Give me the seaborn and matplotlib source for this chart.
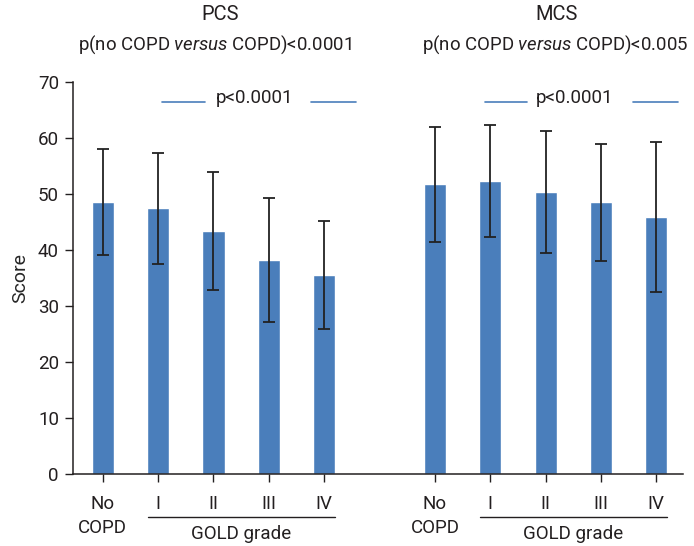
import pandas as pd
import seaborn as sns
import matplotlib.pyplot as plt
import matplotlib.transforms as mtransforms

sns.set_style("ticks")
plt.rcParams['font.family'] = ['Roboto', 'DejaVu Sans']
plt.rcParams['mathtext.fontset'] = 'custom'
plt.rcParams['mathtext.it'] = 'Roboto:italic'
plt.rcParams['mathtext.rm'] = 'Roboto'
plt.rcParams['text.color'] = '#231f20'
plt.rcParams['xtick.color'] = '#231f20'
plt.rcParams['ytick.color'] = '#231f20'

# Data
groups = ["No\nCOPD", "I", "II", "III", "IV"]
pcs_mean = [48.6, 47.4, 43.4, 38.2, 35.5]
pcs_sd = [9.5, 9.9, 10.6, 11.0, 9.7]
mcs_mean = [51.7, 52.3, 50.4, 48.5, 45.9]
mcs_sd = [10.2, 9.95, 10.9, 10.5, 13.4]
pcs_pos = [0, 1, 2, 3, 4]
mcs_pos = [6, 7, 8, 9, 10]

df = pd.DataFrame({
    "pos": pcs_pos + mcs_pos,
    "score": pcs_mean + mcs_mean,
    "sd": pcs_sd + mcs_sd,
})

bar_col = "#4a7ebb"
fs = 13.5

fig = plt.figure(figsize=(6.94, 5.46), dpi=100)
ax = fig.add_axes([0.105, 0.132, 0.879, 0.718])

sns.barplot(data=df, x="pos", y="score", native_scale=True, width=0.4,
            color=bar_col, saturation=1, errorbar=None, ax=ax)
ax.errorbar(df["pos"], df["score"], yerr=df["sd"], fmt="none",
            ecolor="#222222", elinewidth=1.3, capsize=4, capthick=1.3)

ax.set_xlim(-0.54, 10.48)
ax.set_ylim(0, 70)
ax.set_yticks(range(0, 71, 10))
ax.set_xticks(pcs_pos + mcs_pos)
ax.set_xticklabels(groups + groups, fontsize=fs, linespacing=1.45)
ax.tick_params(axis="y", labelsize=fs, length=6, width=1, pad=4)
ax.tick_params(axis="x", length=6, width=1, pad=9)
ax.set_xlabel("")
ax.set_ylabel("Score", fontsize=fs + 0.5, labelpad=6)
sns.despine(ax=ax)
for sp in ["left", "bottom"]:
    ax.spines[sp].set_linewidth(1.1)
    ax.spines[sp].set_color("#231f20")

# GOLD grade group lines below the axis
trans = mtransforms.blended_transform_factory(ax.transData, ax.transAxes)
for start in [1, 7]:
    ax.plot([start - 0.19, start + 3.19], [-0.11, -0.11],
            color="#231f20", lw=1, transform=trans, clip_on=False)
    ax.text(start + 1.5, -0.152, "GOLD grade", ha="center", va="center",
            fontsize=fs, transform=trans)

# p-value annotations above bars
line_col = "#4a7ebb"
for a, b, c, d, mid in [(1.07, 1.84, 3.76, 4.57, 2.75), (6.9, 7.66, 9.58, 10.39, 8.53)]:
    ax.plot([a, b], [66.5, 66.5], color=line_col, lw=1.2, clip_on=False)
    ax.plot([c, d], [66.5, 66.5], color=line_col, lw=1.2, clip_on=False)
    ax.text(mid, 67.2, "p<0.0001", ha="center", va="center", fontsize=fs)

# Titles
fig.text(220 / 694, 1 - 14 / 546, "PCS", ha="center", va="center", fontsize=14.5)
fig.text(215 / 694, 1 - 45 / 546, "p(no COPD $\\it{versus}$ COPD)<0.0001",
         ha="center", va="center", fontsize=13.4)
fig.text(557 / 694, 1 - 14 / 546, "MCS", ha="center", va="center", fontsize=14.5)
fig.text(555 / 694, 1 - 45 / 546, "p(no COPD $\\it{versus}$ COPD)<0.005",
         ha="center", va="center", fontsize=13.4)

fig.savefig("out.png", dpi=100)
